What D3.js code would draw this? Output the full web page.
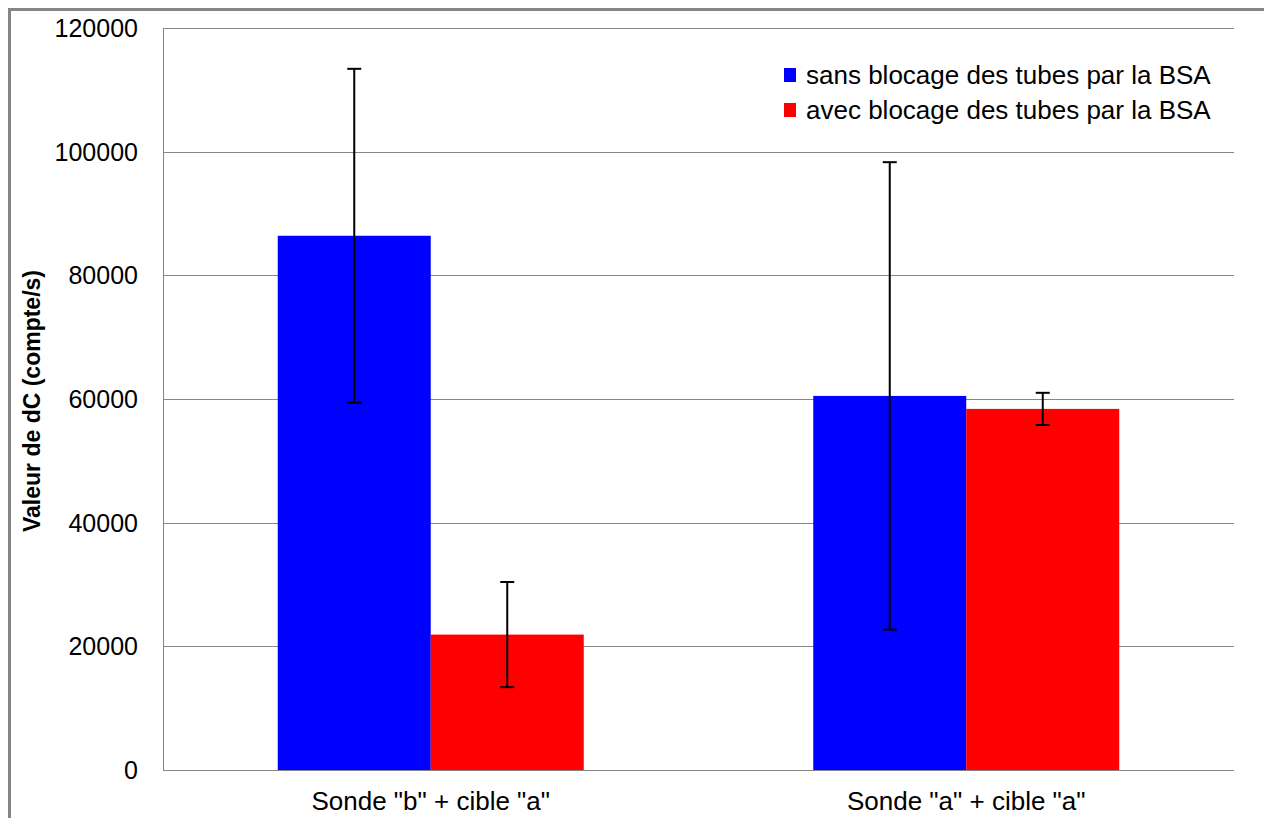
<!DOCTYPE html>
<html>
<head>
<meta charset="utf-8">
<script src="https://cdn.jsdelivr.net/npm/d3@7"></script>
<style>
  body { margin: 0; background: #fff; }
  text { font-family: "Liberation Sans", Arial, sans-serif; fill: #000; }
</style>
</head>
<body>
<svg id="chart" width="1264" height="818"></svg>
<script>
// donnees
var categories = ['Sonde "b" + cible "a"', 'Sonde "a" + cible "a"'];
var series = ["sans blocage des tubes par la BSA", "avec blocage des tubes par la BSA"];
var couleurs = ["#0000ff", "#ff0000"];
var valeursSans = [86400, 60500];
var erreursSans = [27000, 37800];
var valeursAvec = [21900, 58400];
var erreursAvec = [8500, 2600];
var ticksY = [0, 20000, 40000, 60000, 80000, 100000, 120000];

var svg = d3.select("#chart");

// cadre exterieur
svg.append("rect")
  .attr("x", 9.5).attr("y", 9.5)
  .attr("width", 1300).attr("height", 900)
  .attr("fill", "none").attr("stroke", "#868686").attr("stroke-width", 3);

var marge = {gauche: 163, droite: 1234, haut: 28, bas: 770};

var xScale = d3.scaleBand()
  .domain(categories)
  .range([marge.gauche, marge.droite])
  .paddingInner(0).paddingOuter(0);

var xSous = d3.scaleBand()
  .domain(series)
  .range([0, xScale.bandwidth()])
  .paddingInner(0)
  .paddingOuter(0.75);

var yScale = d3.scaleLinear()
  .domain([0, 120000])
  .range([marge.bas, marge.haut]);

// lignes de grille
svg.append("g").selectAll("line")
  .data(ticksY)
  .enter()
  .append("line")
  .attr("x1", marge.gauche).attr("x2", marge.droite)
  .attr("y1", function(d) { return Math.round(yScale(d)) + 0.5; })
  .attr("y2", function(d) { return Math.round(yScale(d)) + 0.5; })
  .attr("stroke", "#868686").attr("stroke-width", 1);

// axe vertical
svg.append("line")
  .attr("x1", marge.gauche + 0.5).attr("x2", marge.gauche + 0.5)
  .attr("y1", marge.haut).attr("y2", marge.bas + 0.5)
  .attr("stroke", "#868686");

// etiquettes Y
svg.append("g").selectAll("text")
  .data(ticksY)
  .enter()
  .append("text")
  .attr("x", 138)
  .attr("y", function(d) { return yScale(d) + 9; })
  .attr("text-anchor", "end")
  .attr("font-size", 25)
  .text(function(d) { return d; });

// titre axe Y
svg.append("text")
  .attr("transform", "translate(40," + 401 + ") rotate(-90)")
  .attr("text-anchor", "middle")
  .attr("font-size", 23)
  .attr("font-weight", "bold")
  .text("Valeur de dC (compte/s)");

// etiquettes X
svg.append("g").selectAll("text")
  .data(categories)
  .enter()
  .append("text")
  .attr("x", function(d) { return xScale(d) + xScale.bandwidth() / 2; })
  .attr("y", 810)
  .attr("text-anchor", "middle")
  .attr("font-size", 26)
  .text(function(d) { return d; });

var donnees = [];
categories.forEach(function(c, i) {
  donnees.push({cat: c, serie: series[0], val: valeursSans[i], err: erreursSans[i], couleur: couleurs[0]});
  donnees.push({cat: c, serie: series[1], val: valeursAvec[i], err: erreursAvec[i], couleur: couleurs[1]});
});

// barres
svg.append("g").selectAll("rect")
  .data(donnees)
  .enter()
  .append("rect")
  .attr("x", function(d) { return xScale(d.cat) + xSous(d.serie); })
  .attr("y", function(d) { return yScale(d.val); })
  .attr("width", xSous.bandwidth())
  .attr("height", function(d) { return yScale(0) - yScale(d.val); })
  .attr("fill", function(d) { return d.couleur; });

// barres d'erreur
var erreurs = svg.append("g").selectAll("g")
  .data(donnees)
  .enter()
  .append("g")
  .attr("stroke", "#000")
  .attr("stroke-width", 2);

function centre(d) { return xScale(d.cat) + xSous(d.serie) + xSous.bandwidth() / 2; }

erreurs.append("line")
  .attr("x1", centre).attr("x2", centre)
  .attr("y1", function(d) { return yScale(d.val + d.err); })
  .attr("y2", function(d) { return yScale(d.val - d.err); });
erreurs.append("line")
  .attr("x1", function(d) { return centre(d) - 7; })
  .attr("x2", function(d) { return centre(d) + 7; })
  .attr("y1", function(d) { return yScale(d.val + d.err); })
  .attr("y2", function(d) { return yScale(d.val + d.err); });
erreurs.append("line")
  .attr("x1", function(d) { return centre(d) - 7; })
  .attr("x2", function(d) { return centre(d) + 7; })
  .attr("y1", function(d) { return yScale(d.val - d.err); })
  .attr("y2", function(d) { return yScale(d.val - d.err); });

// legende
var legende = svg.append("g").selectAll("g")
  .data(series)
  .enter()
  .append("g")
  .attr("transform", function(d, i) { return "translate(784," + (68 + i * 35) + ")"; });
legende.append("rect")
  .attr("width", 12).attr("height", 14)
  .attr("fill", function(d, i) { return couleurs[i]; });
legende.append("text")
  .attr("x", 22).attr("y", 16)
  .attr("font-size", 26)
  .text(function(d) { return d; });
</script>
</body>
</html>
